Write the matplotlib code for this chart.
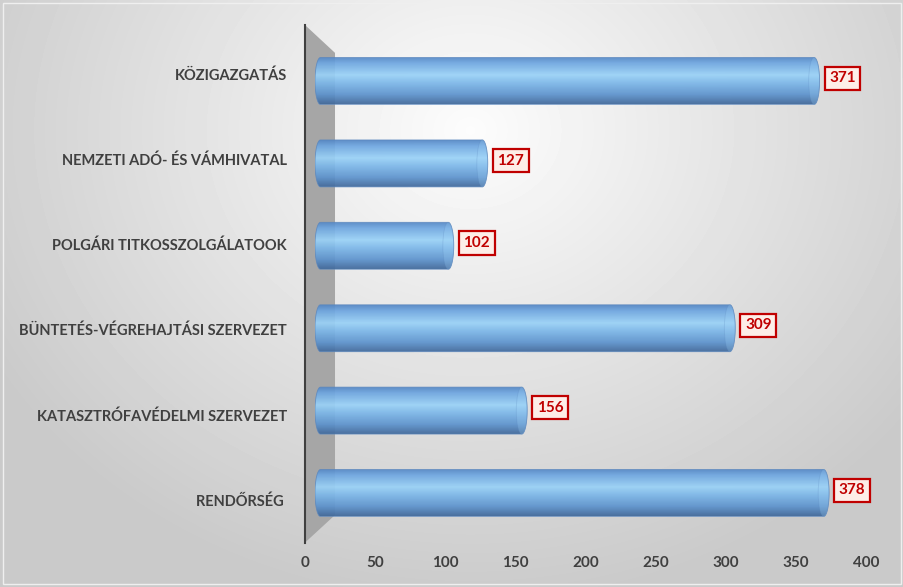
import numpy as np
import matplotlib.pyplot as plt
from matplotlib.patches import Polygon, Ellipse, PathPatch, Rectangle
from matplotlib.path import Path
from matplotlib.colors import LinearSegmentedColormap

plt.rcParams['font.family'] = ['Lato', 'DejaVu Sans']

categories = ['KÖZIGAZGATÁS', 'NEMZETI ADÓ- ÉS VÁMHIVATAL', 'POLGÁRI TITKOSSZOLGÁLATOOK',
              'BÜNTETÉS-VÉGREHAJTÁSI SZERVEZET', 'KATASZTRÓFAVÉDELMI SZERVEZET', 'RENDŐRSÉG ']
values = [371, 127, 102, 309, 156, 378]
x_ticks = [0, 50, 100, 150, 200, 250, 300, 350, 400]

W, H = 904, 587
fig = plt.figure(figsize=(W / 100, H / 100), dpi=100)


def box(x0, y0, x1, y1):
    # pixel box (from top left) -> figure fractions
    return [x0 / W, 1 - y1 / H, (x1 - x0) / W, (y1 - y0) / H]


# grey gradient background
bg = fig.add_axes([0, 0, 1, 1], zorder=0)
yy, xx = np.mgrid[0:H, 0:W]
r = np.hypot((xx - 470) / 580, (yy - 130) / 500)
shade = np.clip(0.99 - 0.21 * r, 0.79, 1)
bg.imshow(shade, cmap='gray', vmin=0, vmax=1, aspect='auto', extent=(0, 1, 0, 1))
bg.axis('off')
fig.add_artist(Rectangle((3 / W, 3 / H), 1 - 6 / W, 1 - 6 / H, transform=fig.transFigure,
                         fill=False, ec='#efefef', lw=1))

# axis with ticks, labels and the side wall
ax = fig.add_axes(box(305, 31.4, 866, 542.6), zorder=1)
ax.set_xlim(0, 400)
ax.set_ylim(5.5, -0.5)
ax.patch.set_alpha(0)
for s in ax.spines.values():
    s.set_visible(False)
ax.set_xticks(x_ticks)
ax.set_yticks(range(len(categories)), categories)
ax.tick_params(length=0, labelcolor='#404040')
ax.tick_params(axis='x', pad=10, labelsize=11)
ax.tick_params(axis='y', pad=13, labelsize=10.5)
for lbl in ax.get_xticklabels() + ax.get_yticklabels():
    lbl.set_fontweight('bold')

wall = Polygon([(0, 1.0125), (0.0535, 0.958), (0.0535, 0.054), (0, 0)], closed=True,
               transform=ax.transAxes, clip_on=False, fc='#a6a6a6', ec='none')
ax.add_patch(wall)
ax.plot([0, 0], [0, 1.0125], transform=ax.transAxes, color='#404040', lw=1.5, clip_on=False)

# cylinders
bx = fig.add_axes(box(315, 39.8, 859, 534.2), zorder=2)
bx.axis('off')
cmap = LinearSegmentedColormap.from_list('cyl', [(0, '#5588c6'), (0.12, '#6ea6e0'), (0.38, '#9ad2f7'),
                                                 (0.55, '#7db8e9'), (0.8, '#5d93cd'), (1, '#41699b')])
grad = np.linspace(0, 1, 100).reshape(-1, 1)
hh = 0.285
rx = 4.0
t = np.linspace(-np.pi / 2, np.pi / 2, 40)
for i, v in enumerate(values):
    right = np.column_stack([v - rx + rx * np.cos(t), i + hh * np.sin(t)])
    left = np.column_stack([rx - rx * np.cos(t), i - hh * np.sin(t)])
    verts = np.vstack([right, left, right[:1]])
    path = Path(verts, closed=True)
    outline = PathPatch(path, fc='none', ec='#5a86bd', lw=0.6, alpha=0.8)
    bx.add_patch(outline)
    im = bx.imshow(grad, cmap=cmap, extent=(0, v, i + hh, i - hh), aspect='auto', alpha=0.93)
    im.set_clip_path(outline)
    bx.add_patch(Ellipse((v - rx, i), 2 * rx, 2 * hh, fc='#9fd2f7', alpha=0.25, ec='#5a86bd', lw=0.6))
    bx.annotate(str(v), xy=(v, i), xytext=(7, 2), textcoords='offset points', ha='left', va='center',
                color='#c00000', fontsize=11, fontweight='bold',
                bbox=dict(boxstyle='square,pad=0.3', fc='#fdeee8', ec='#c00000', lw=1.6))
bx.set_xlim(0, 400)
bx.set_ylim(5.5, -0.5)

fig.savefig('out.png', dpi=100)
